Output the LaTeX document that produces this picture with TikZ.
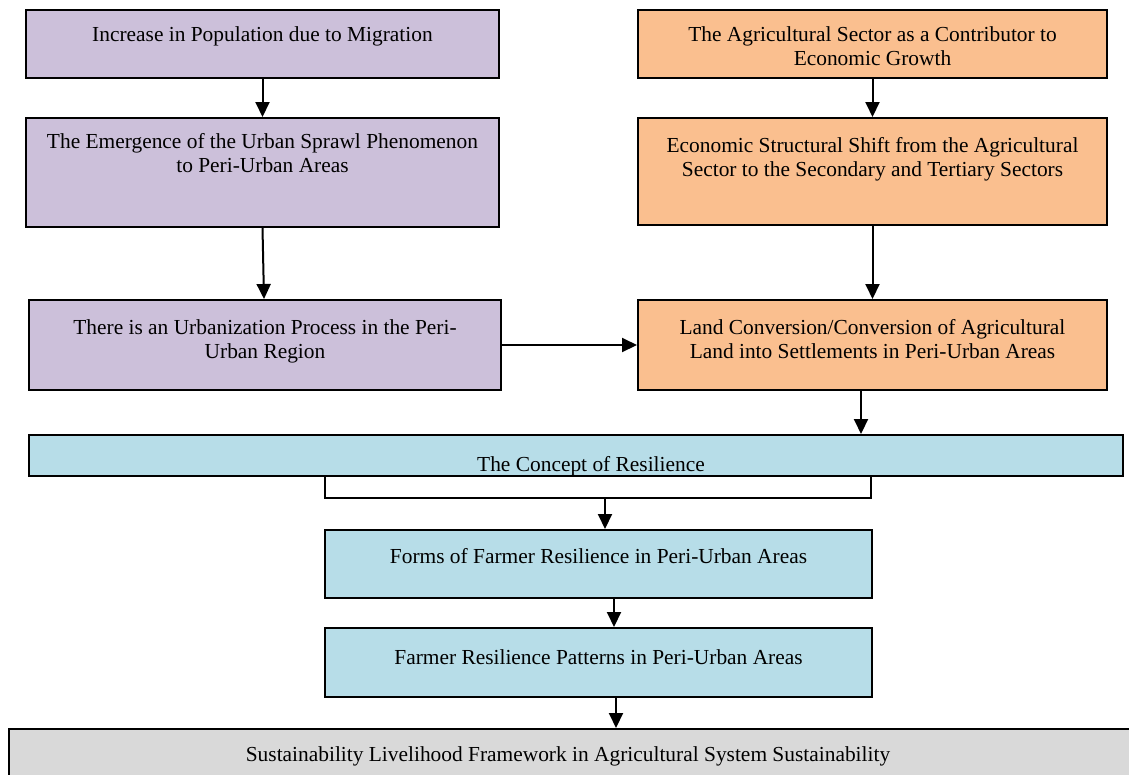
\documentclass[tikz,border=0pt]{standalone}
\usepackage{fontspec}
\setmainfont{Liberation Serif}
\usetikzlibrary{arrows.meta}
\definecolor{cpurple}{RGB}{204,192,218}
\definecolor{corange}{RGB}{250,191,143}
\definecolor{cblue}{RGB}{183,221,232}
\definecolor{cgray}{RGB}{217,217,217}
\newcommand{\bxt}[4]{\parbox[t][#2pt][t]{#1pt}{\vspace*{#3pt}\centering #4\par}}
\tikzset{
  boxnode/.style={draw=black, line width=2pt, inner sep=0pt, anchor=north west,
    font=\fontsize{21.4}{24}\selectfont},
  arr/.style={line width=2pt, -{Triangle[width=14pt,length=15pt]}},
  brk/.style={line width=2pt}
}
\begin{document}
\begin{tikzpicture}[x=1pt,y=-1pt]
\useasboundingbox (0,0) rectangle (1129,774);
% left column
\node[boxnode, fill=cpurple] (p1) at (25,9) {\bxt{473}{68}{17}{Increase in Population due to Migration}};
\node[boxnode, fill=cpurple] (p2) at (25,117) {\bxt{473}{109}{15}{The Emergence of the Urban Sprawl Phenomenon\\to Peri-Urban Areas}};
\node[boxnode, fill=cpurple] (p3) at (28,299) {\bxt{472}{90}{20}{There is an Urbanization Process in the Peri-\\Urban Region}};
% right column
\node[boxnode, fill=corange] (o1) at (637,9) {\bxt{469}{68}{17}{The Agricultural Sector as a Contributor to\\Economic Growth}};
\node[boxnode, fill=corange] (o2) at (637,117) {\bxt{469}{107}{19}{Economic Structural Shift from the Agricultural\\Sector to the Secondary and Tertiary Sectors}};
\node[boxnode, fill=corange] (o3) at (637,299) {\bxt{469}{90}{19}{Land Conversion/Conversion of Agricultural\\Land into Settlements in Peri-Urban Areas}};
% resilience
\node[boxnode, fill=cblue] (concept) at (28,434) {\bxt{1094}{41}{21}{\hspace*{30pt}The Concept of Resilience}};
\node[boxnode, fill=cblue] (forms) at (324,529) {\bxt{547}{68}{18}{Forms of Farmer Resilience in Peri-Urban Areas}};
\node[boxnode, fill=cblue] (patterns) at (324,627) {\bxt{547}{69}{22}{Farmer Resilience Patterns in Peri-Urban Areas}};
\node[boxnode, fill=cgray] (bottom) at (8,728) {\bxt{1132}{62}{18}{\hspace*{-14pt}Sustainability Livelihood Framework in Agricultural System Sustainability}};
% connectors
\draw[arr] (p1.south) -- (p2.north);
\draw[arr] (p2.south) -- ([xshift=-1pt]p3.north);
\draw[arr] (p3.east) -- (p3.east -| o3.west);
\draw[arr] (o1.south) -- (o2.north);
\draw[arr] (o2.south) -- (o3.north);
\draw[arr] ([xshift=-11.5pt]o3.south) -- ([xshift=-11.5pt]o3.south |- concept.north);
\coordinate (bl) at (325,498);
\coordinate (br) at (871,498);
\coordinate (bm) at (605,498);
\draw[brk] (concept.south -| bl) -- (bl) -- (br) -- (concept.south -| br);
\draw[arr] (bm) -- (bm |- forms.north);
\draw[arr] ([xshift=15.5pt]forms.south) -- ([xshift=15.5pt]forms.south |- patterns.north);
\draw[arr] ([xshift=17.5pt]patterns.south) -- ([xshift=17.5pt]patterns.south |- bottom.north);
\end{tikzpicture}
\end{document}
